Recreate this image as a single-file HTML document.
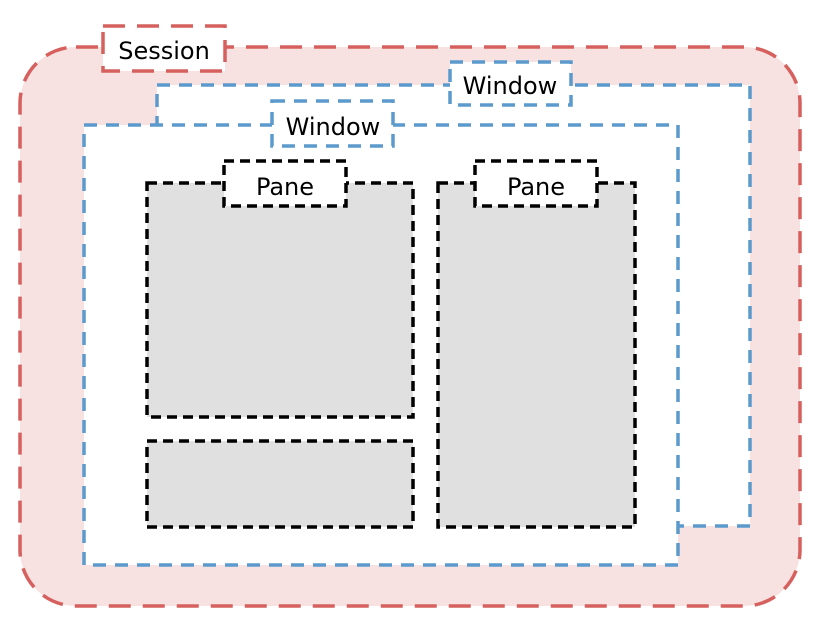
<!DOCTYPE html>
<html><head><meta charset="utf-8"><style>
html,body{margin:0;padding:0;background:#fff;width:818px;height:622px;overflow:hidden}
text{font-family:"DejaVu Sans","Liberation Sans",sans-serif;font-size:24px;fill:#000}
</style></head><body>
<svg width="818" height="622" viewBox="0 0 818 622" xmlns="http://www.w3.org/2000/svg">
<rect x="20" y="47" width="780" height="559" rx="56" ry="56" fill="#f7e1e1" stroke="#d6605e" stroke-width="3.5" stroke-dasharray="22 12"/>
<rect x="103" y="26" width="122" height="45" fill="#fff" stroke="#d6605e" stroke-width="3.5" stroke-dasharray="22 12"/>
<text x="164" y="59" text-anchor="middle">Session</text>
<rect x="157" y="85" width="593" height="441" fill="#fff" stroke="#5c9ace" stroke-width="3.5" stroke-dasharray="13 9"/>
<rect x="450" y="62" width="121" height="43" fill="#fff" stroke="#5c9ace" stroke-width="3.5" stroke-dasharray="13 9"/>
<text x="510" y="94" text-anchor="middle">Window</text>
<rect x="84" y="125" width="594" height="440" fill="#fff" stroke="#5c9ace" stroke-width="3.5" stroke-dasharray="13 9"/>
<rect x="272" y="101" width="121" height="45" fill="#fff" stroke="#5c9ace" stroke-width="3.5" stroke-dasharray="13 9"/>
<text x="333" y="135" text-anchor="middle">Window</text>
<g stroke="#000" stroke-width="3.5" stroke-dasharray="10 6">
<rect x="147" y="183" width="266" height="234" fill="#e0e0e0"/>
<rect x="147" y="441" width="266" height="86" fill="#e0e0e0"/>
<rect x="438" y="183" width="197" height="344" fill="#e0e0e0"/>
<rect x="224" y="161" width="122" height="45" fill="#fff"/>
<rect x="475" y="161" width="122" height="45" fill="#fff"/>
</g>
<text x="285" y="195" text-anchor="middle">Pane</text>
<text x="536" y="195" text-anchor="middle">Pane</text>
</svg>
</body></html>
